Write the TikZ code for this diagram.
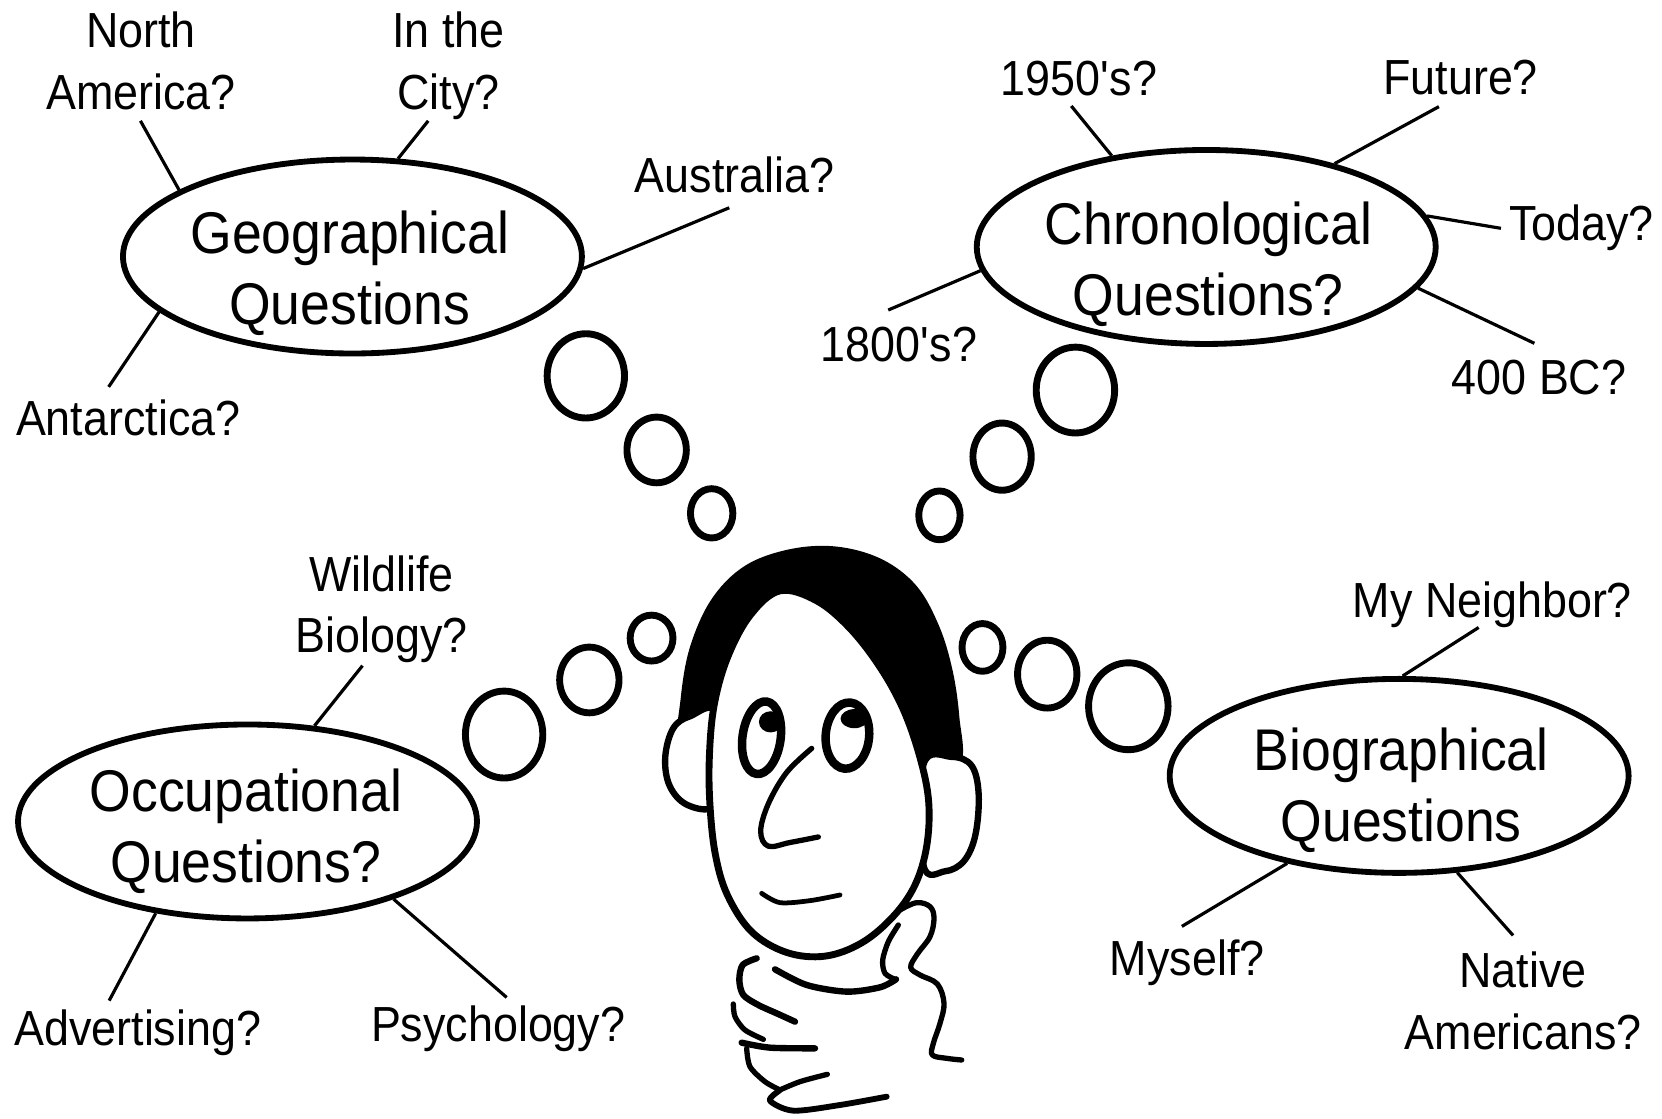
\documentclass[tikz,border=0pt]{standalone}
\usepackage{fontspec}
\setmainfont{Liberation Sans}[FakeStretch=0.91]
\usetikzlibrary{shapes.geometric}
\begin{document}
\begin{tikzpicture}[x=1pt,y=-1pt,
  lbl/.style={font=\fontsize{46.5}{58}\selectfont, align=center, inner sep=0pt, anchor=base},
  big/.style={font=\fontsize{55.5}{67}\selectfont, align=center, inner sep=0pt, anchor=base},
  oval/.style={ellipse, draw, line width=5.5pt, minimum width=433pt, minimum height=183pt, inner sep=0pt},
  spoke/.style={line width=3pt},
  puff/.style={ellipse, draw, line width=6.5pt, inner sep=0pt},
  ink/.style={line width=#1, line cap=round, line join=round},
  ink/.default=6pt]
\fill[white] (0,0) rectangle (1568,1055);
\useasboundingbox (0,0) rectangle (1568,1055);

% ---- the four question ovals ----
\node[oval] (geo)   at (332.5,242) {};
\node[oval] (chron) at (1138,233) {};
\node[oval] (occ)   at (233.5,775) {};
\node[oval] (bio)   at (1320,732) {};

% (base anchor = baseline of the last line)
\node[big] (geo-t)   at (330,306.5) {Geographical\\Questions};
\node[big] (chron-t) at (1140,297.5) {Chronological\\Questions?};
\node[big] (occ-t)   at (232,833) {Occupational\\Questions?};
\node[big] (bio-t)   at (1322,794) {Biographical\\Questions};

% ---- labels ----
\node[lbl] (na)   at (133,103)  {North\\America?};
\node[lbl] (city) at (423,103)  {In the\\City?};
\node[lbl] (aus)  at (693,182)  {Australia?};
\node[lbl] (ant)  at (121,411)  {Antarctica?};
\node[lbl] (c50)  at (1018,90)  {1950\textquotesingle s?};
\node[lbl] (fut)  at (1378,89)  {Future?};
\node[lbl] (tod)  at (1492,227) {Today?};
\node[lbl] (bc)   at (1452,372) {400 BC?};
\node[lbl] (c18)  at (848,341)  {1800\textquotesingle s?};
\node[lbl] (wild) at (360,616)  {Wildlife\\Biology?};
\node[lbl] (adv)  at (130,986)  {Advertising?};
\node[lbl] (psy)  at (470,983)  {Psychology?};
\node[lbl] (nb)   at (1408,583) {My Neighbor?};
\node[lbl] (my)   at (1120,920) {Myself?};
\node[lbl] (nat)  at (1437,990) {Native\\Americans?};

% ---- free ends of the spokes ----
\coordinate (na-e)   at (132.5,114);
\coordinate (city-e) at (404,114);
\coordinate (aus-e)  at (688,196);
\coordinate (ant-e)  at (102.5,365);
\coordinate (c50-e)  at (1010.7,100);
\coordinate (fut-e)  at (1357.5,100.6);
\coordinate (tod-e)  at (1416,215.4);
\coordinate (bc-e)   at (1447.6,323.9);
\coordinate (c18-e)  at (838,292.5);
\coordinate (wild-e) at (342,628);
\coordinate (adv-e)  at (103,944);
\coordinate (psy-e)  at (478,941);
\coordinate (nb-e)   at (1395,592);
\coordinate (my-e)   at (1115,874);
\coordinate (nat-e)  at (1427.5,882.5);

\draw[spoke] (geo.159.3) -- (na-e);
\draw[spoke] (geo.65.5) -- (city-e);
\draw[spoke] (geo.357.3) -- (aus-e);
\draw[spoke] (geo.196.9) -- (ant-e);
\draw[spoke] (chron.136.9) -- (c50-e);
\draw[spoke] (chron.33.4) -- (fut-e);
\draw[spoke] (chron.8.7) -- (tod-e);
\draw[spoke] (chron.349.6) -- (bc-e);
\draw[spoke] (chron.186.4) -- (c18-e);
\draw[spoke] (occ.55.7) -- (wild-e);
\draw[spoke] (occ.225.2) -- (adv-e);
\draw[spoke] (occ.332.4) -- (psy-e);
\draw[spoke] (bio.88.2) -- (nb-e);
\draw[spoke] (bio.218.7) -- (my-e);
\draw[spoke] (bio.301.5) -- (nat-e);

% ---- thought puffs ----
\node[puff, minimum width=73pt, minimum height=79.5pt] (g1) at (552.7,354.6) {};
\node[puff, minimum width=56pt, minimum height=62pt]   (g2) at (619.5,424.5) {};
\node[puff, minimum width=40pt, minimum height=46.5pt] (g3) at (671.4,484.3) {};
\node[puff, minimum width=74pt, minimum height=81pt]   (c1) at (1014.6,368) {};
\node[puff, minimum width=55pt, minimum height=63.4pt] (c2) at (945.4,430.8) {};
\node[puff, minimum width=39pt, minimum height=46pt]   (c3) at (886.3,486.2) {};
\node[puff, minimum width=73pt, minimum height=82pt]   (o1) at (475.6,693) {};
\node[puff, minimum width=56pt, minimum height=62pt]   (o2) at (556,641.5) {};
\node[puff, minimum width=40.4pt, minimum height=43.3pt] (o3) at (614.7,602) {};
\node[puff, minimum width=75pt, minimum height=82pt]   (b1) at (1064.5,666.3) {};
\node[puff, minimum width=56pt, minimum height=64pt]   (b2) at (988,636) {};
\node[puff, minimum width=38.6pt, minimum height=45pt] (b3) at (926.9,610.8) {};

% ---- the thinker's head ----
\begin{scope}[shift={(603.8pt,-509.4pt)}, x=0.3145pt, y=-0.3481pt]
  % hair
  \fill[black] plot[smooth cycle, tension=0.6] coordinates {
    (118,560) (122,430) (150,290) (215,160) (315,70) (450,25) (590,18)
    (725,52) (830,125) (898,235) (938,355) (958,480) (962,610)
    (860,700) (600,500) (300,500) (215,600)};
  % ears
  \draw[ink=6pt, fill=white] plot[smooth cycle, tension=0.6] coordinates {
    (230,470) (150,478) (100,510) (76,585) (86,660) (130,712) (200,730) (235,700)};
  \draw[ink=6pt, fill=white] plot[smooth cycle, tension=0.6] coordinates {
    (850,610) (935,588) (995,612) (1016,690) (1006,800) (972,870) (915,898) (850,880)};
  % face
  \draw[ink=6.5pt, fill=white] plot[smooth cycle, tension=0.6] coordinates {
    (420,138) (530,165) (630,240) (720,345) (790,460) (840,590) (866,710)
    (860,830) (825,935) (760,1020) (665,1092) (555,1128) (440,1118)
    (335,1062) (262,962) (226,852) (210,720) (208,590) (222,450)
    (262,320) (330,205)};
  % nose
  \draw[ink=5pt] plot[smooth, tension=0.6] coordinates {
    (515,565) (440,630) (385,715) (362,790) (385,830) (450,820) (535,805)};
\end{scope}

% eyes
\draw[ink=8pt, fill=white, rotate around={-8:(718.5,696)}] (718.5,696) ellipse [x radius=18, y radius=34.5];
\draw[ink=8pt, fill=white, rotate around={-5:(799.5,694)}] (799.5,694) ellipse [x radius=20.5, y radius=31.3];
\fill (727,681) ellipse [x radius=11, y radius=10];
\fill (806,678) ellipse [x radius=13, y radius=9];

% mouth and hand
\begin{scope}[shift={(660.4pt,-830.2pt)}, x=0.3145pt, y=-0.3145pt]
  \draw[ink=4.5pt] plot[smooth] coordinates {(185,40) (240,68) (330,62) (420,45)};
  % thumb against the jaw
  \draw[ink=5pt] plot[smooth, tension=0.6] coordinates {
    (600,90) (650,68) (690,80) (702,115) (690,170) (652,222) (632,262)
    (660,285) (712,312) (732,370) (720,430) (700,490) (697,525) (740,535) (785,540)};
  \draw[ink=5pt] plot[smooth] coordinates {(595,135) (565,185) (548,240) (555,280) (585,298)};
  % collar
  \draw[ink=6pt] plot[smooth] coordinates {(225,268) (320,315) (440,335) (540,322) (588,298)};
  % fingers
  \draw[ink=6pt] plot[smooth] coordinates {(170,235) (128,255) (118,300) (130,345) (175,375) (230,400) (285,425)};
  \draw[ink=5pt] plot[smooth] coordinates {(100,372) (105,410) (135,450) (190,478)};
  \draw[ink=6pt] plot[smooth] coordinates {(125,488) (210,503) (345,505)};
  \draw[ink=5pt] plot[smooth] coordinates {(140,505) (150,560) (195,605) (240,630)};
  \draw[ink=5pt] plot[smooth] coordinates {(235,632) (300,605) (382,583)};
  \draw[ink=5.5pt] plot[smooth] coordinates {(238,632) (210,662) (280,692) (420,675) (560,650)};
\end{scope}
\end{tikzpicture}
\end{document}
